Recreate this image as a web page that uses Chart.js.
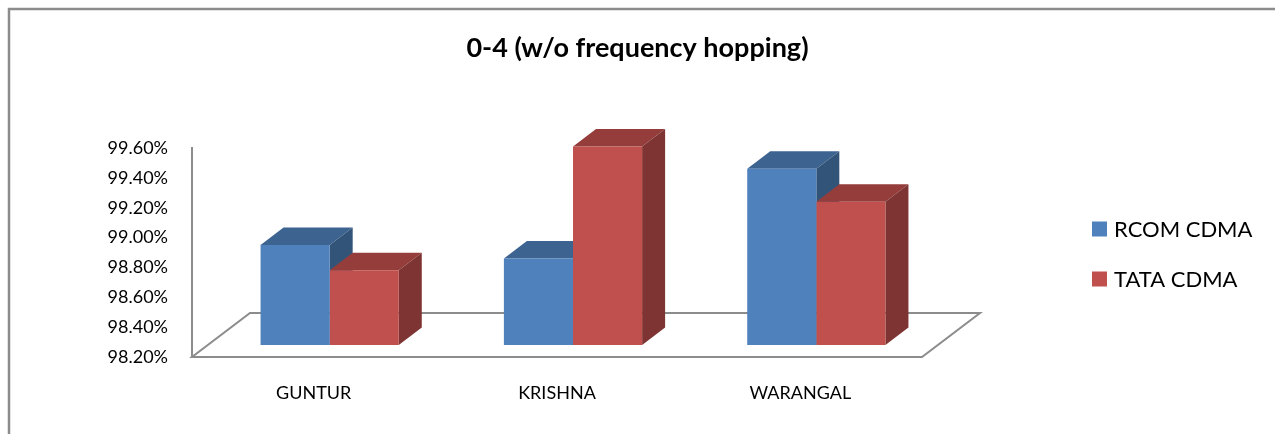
<!DOCTYPE html>
<html>
<head>
<meta charset="utf-8">
<script src="https://cdn.jsdelivr.net/npm/chart.js@4.4.1/dist/chart.umd.min.js"></script>
<style>
  body { margin: 0; background: #fff; }
  canvas { display: block; }
</style>
</head>
<body>
<canvas id="myChart" width="1275" height="434"></canvas>
<script>
// data
let categories = ["GUNTUR", "KRISHNA", "WARANGAL"];
let rcomValues = [98.87, 98.78, 99.38];
let tataValues = [98.70, 99.53, 99.16];
let tickValues = [98.2, 98.4, 98.6, 98.8, 99.0, 99.2, 99.4, 99.6];

let font = "Lato";
let lineGray = "#8c8c8c";

// front face is pushed back a bit into the floor, faces go further back
let shift = { x: 16, y: -12 };
let depth = { x: 23, y: -17.5 };
let floorDepth = { x: 58, y: -44 };

let shades = {
  "#4F81BD": { top: "#3D6391", side: "#335479" },
  "#C0504D": { top: "#943D3B", side: "#7D3432" },
};

let bars3d = {
  id: "bars3d",
  beforeDraw(chart) {
    let ctx = chart.ctx;
    let x = chart.scales.x;
    let y = chart.scales.y;
    let y0 = y.getPixelForValue(tickValues[0]);
    ctx.save();
    // outer frame
    ctx.strokeStyle = lineGray;
    ctx.lineWidth = 2.5;
    ctx.strokeRect(9, 9, 1400, 600);
    // floor
    ctx.lineWidth = 2;
    ctx.beginPath();
    ctx.moveTo(x.left, y0);
    ctx.lineTo(x.right, y0);
    ctx.lineTo(x.right + floorDepth.x, y0 + floorDepth.y);
    ctx.lineTo(x.left + floorDepth.x, y0 + floorDepth.y);
    ctx.closePath();
    ctx.stroke();
    ctx.restore();
  },
  // top and side faces of every bar, first series first
  beforeDatasetsDraw(chart) {
    let ctx = chart.ctx;
    ctx.save();
    ctx.translate(shift.x, shift.y);
    chart.data.datasets.forEach((ds, i) => {
      let c = shades[ds.backgroundColor];
      chart.getDatasetMeta(i).data.forEach((bar) => {
        let l = bar.x - bar.width / 2;
        let r = bar.x + bar.width / 2;
        ctx.fillStyle = c.top;
        ctx.beginPath();
        ctx.moveTo(l, bar.y);
        ctx.lineTo(l + depth.x, bar.y + depth.y);
        ctx.lineTo(r + depth.x, bar.y + depth.y);
        ctx.lineTo(r, bar.y);
        ctx.closePath();
        ctx.fill();
        ctx.fillStyle = c.side;
        ctx.beginPath();
        ctx.moveTo(r, bar.y);
        ctx.lineTo(r + depth.x, bar.y + depth.y);
        ctx.lineTo(r + depth.x, bar.base + depth.y);
        ctx.lineTo(r, bar.base);
        ctx.closePath();
        ctx.fill();
      });
    });
    ctx.restore();
  },
  // front faces are drawn by Chart.js, moved onto the same plane
  beforeDatasetDraw(chart) {
    chart.ctx.save();
    chart.ctx.translate(shift.x, shift.y);
  },
  afterDatasetDraw(chart) {
    chart.ctx.restore();
  },
  afterDraw(chart) {
    let ctx = chart.ctx;
    ctx.save();
    ctx.font = "22px " + font;
    ctx.textBaseline = "middle";
    chart.data.datasets.forEach((ds, i) => {
      let cy = 229 + i * 50;
      ctx.fillStyle = ds.backgroundColor;
      ctx.fillRect(1092, cy - 7.5, 15, 15);
      ctx.fillStyle = "#000";
      ctx.fillText(ds.label, 1114, cy + 1);
    });
    ctx.restore();
  },
};

let canvas = document.getElementById("myChart");
let ctx = canvas.getContext("2d");
let chart = new Chart(ctx, {
  type: "bar",
  data: {
    labels: categories,
    datasets: [
      {
        label: "RCOM CDMA",
        data: rcomValues,
        backgroundColor: "#4F81BD",
        base: tickValues[0],
        clip: false,
      },
      {
        label: "TATA CDMA",
        data: tataValues,
        backgroundColor: "#C0504D",
        base: tickValues[0],
        clip: false,
      },
    ],
  },
  options: {
    responsive: false,
    animation: false,
    devicePixelRatio: 1,
    categoryPercentage: 0.568,
    barPercentage: 1,
    layout: { padding: 0 },
    plugins: {
      legend: { display: false },
      tooltip: { enabled: false },
      title: {
        display: true,
        text: "0-4 (w/o frequency hopping)",
        color: "#000",
        font: { family: font, size: 27, weight: "bold", lineHeight: 1.2 },
        padding: { top: 32, bottom: 83.6 },
      },
    },
    scales: {
      x: {
        grid: { display: false, drawTicks: false },
        border: { display: false },
        ticks: { color: "#000", font: { family: font, size: 18 }, padding: 25 },
        afterFit(scale) { scale.height = 77; },
      },
      y: {
        min: tickValues[0],
        max: tickValues[tickValues.length - 1],
        beginAtZero: false,
        afterBuildTicks(scale) {
          scale.ticks = tickValues.map((v) => ({ value: v }));
        },
        grid: { display: false, drawTicks: false },
        border: { display: true, color: lineGray, width: 2 },
        ticks: {
          color: "#000",
          font: { family: font, size: 18 },
          padding: 24,
          callback: (v) => v.toFixed(2) + "%",
        },
        afterFit(scale) { scale.width = 192; },
      },
      // empty axis that keeps room on the right for the legend
      room: {
        position: "right",
        grid: { display: false, drawTicks: false },
        border: { display: false },
        ticks: { display: false },
        afterFit(scale) { scale.width = 353; },
      },
    },
  },
  plugins: [bars3d],
});
</script>
</body>
</html>
